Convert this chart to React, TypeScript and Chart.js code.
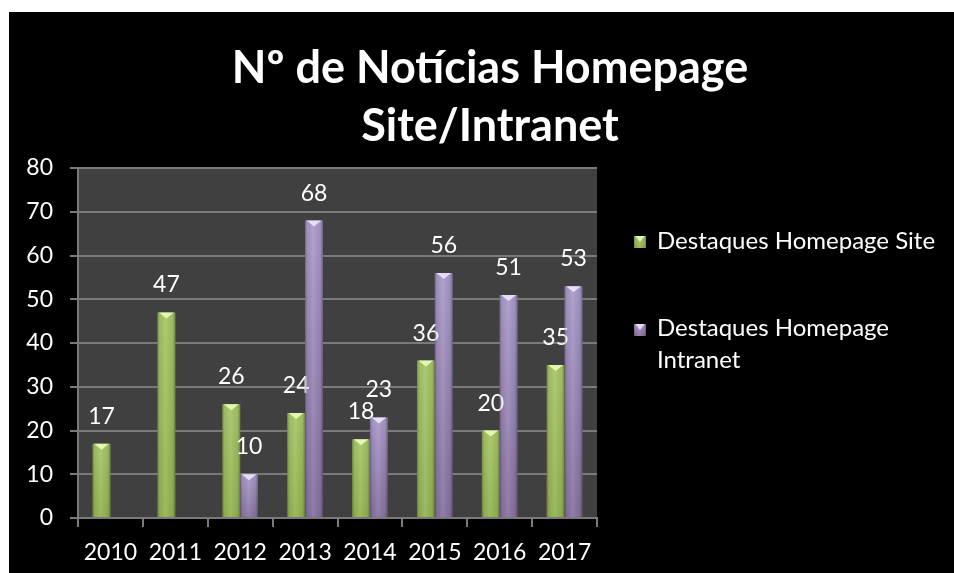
import React, { useEffect, useRef } from 'react';
import { Chart, registerables } from 'chart.js';

Chart.register(...registerables);

const years = ['2010', '2011', '2012', '2013', '2014', '2015', '2016', '2017'];
const siteValues = [17, 47, 26, 24, 18, 36, 20, 35];
const intranetValues = [null, null, 10, 68, 23, 56, 51, 53];
const yMin = 0;
const yMax = 80;
const yStep = 10;
const titleLines = ['Nº de Notícias Homepage', 'Site/Intranet'];
const seriesNames = ['Destaques Homepage Site', 'Destaques Homepage Intranet'];
const legendLines = [['Destaques Homepage Site'], ['Destaques Homepage', 'Intranet']];

const FONT = 'Lato, "Open Sans", "DejaVu Sans", sans-serif';
const baseTop = ['#a7c667', '#ab9aca'];
const baseBottom = ['#93b352', '#85729f'];
const lightTri = ['#e4f7b0', '#eadcf8'];

function barGradient(ctx: any, di: number) {
  const chart = ctx.chart;
  const ys = chart.scales && chart.scales.y;
  const v = ctx.raw;
  if (!ys || v == null || !chart.chartArea) return baseTop[di];
  const top = ys.getPixelForValue(v);
  const bot = ys.getPixelForValue(0);
  const g = chart.ctx.createLinearGradient(0, top, 0, bot + 0.01);
  g.addColorStop(0, baseTop[di]);
  g.addColorStop(1, baseBottom[di]);
  return g;
}

function shadeBar(c: CanvasRenderingContext2D, l: number, r: number, top: number, bottom: number, di: number) {
  const w = r - l;
  const g = c.createLinearGradient(l, 0, r, 0);
  g.addColorStop(0, 'rgba(0,0,0,0.30)');
  g.addColorStop(0.12, 'rgba(0,0,0,0.06)');
  g.addColorStop(0.45, 'rgba(255,255,255,0.08)');
  g.addColorStop(0.85, 'rgba(0,0,0,0.06)');
  g.addColorStop(1, 'rgba(0,0,0,0.32)');
  c.fillStyle = g;
  c.fillRect(l, top, w, bottom - top);
  c.fillStyle = lightTri[di];
  c.beginPath();
  c.moveTo(l + 1.5, top);
  c.lineTo(r - 1.5, top);
  c.lineTo((l + r) / 2, top + Math.min(6, (bottom - top) / 2));
  c.closePath();
  c.fill();
}

const decorPlugin = {
  id: 'decor',
  beforeDraw(chart: any) {
    const { ctx, chartArea } = chart;
    ctx.save();
    ctx.fillStyle = '#404040';
    ctx.fillRect(chartArea.left, chartArea.top, chartArea.right - chartArea.left, chartArea.bottom - chartArea.top);
    ctx.restore();
  },
  afterDatasetsDraw(chart: any) {
    const c = chart.ctx;
    c.save();
    chart.data.datasets.forEach((ds: any, di: number) => {
      const meta = chart.getDatasetMeta(di);
      meta.data.forEach((el: any, i: number) => {
        const v = ds.data[i];
        if (v == null) return;
        const p = el.getProps(['x', 'y', 'base', 'width'], true);
        const l = p.x - p.width / 2;
        const r = p.x + p.width / 2;
        shadeBar(c, l, r, p.y, p.base, di);
        c.fillStyle = '#ffffff';
        c.font = `23px ${FONT}`;
        c.textAlign = 'center';
        c.textBaseline = 'alphabetic';
        c.fillText(String(v), p.x, p.y - 20);
      });
    });
    c.restore();
  },
  afterDraw(chart: any) {
    const c = chart.ctx;
    c.save();
    // title
    c.fillStyle = '#ffffff';
    c.font = `bold 45px ${FONT}`;
    c.textAlign = 'center';
    c.textBaseline = 'alphabetic';
    c.fillText(titleLines[0], 481, 71);
    c.fillText(titleLines[1], 481, 129);
    // legend
    const items = [
      { sq: 224, lines: legendLines[0], base: [237] },
      { sq: 312, lines: legendLines[1], base: [324, 356] },
    ];
    items.forEach((it, di) => {
      const l = 625, r = 637, t = it.sq, b = it.sq + 12;
      const g = c.createLinearGradient(0, t, 0, b);
      g.addColorStop(0, baseTop[di]);
      g.addColorStop(1, baseBottom[di]);
      c.fillStyle = g;
      c.fillRect(l, t, r - l, b - t);
      shadeBar(c, l, r, t, b, di);
      c.fillStyle = '#ffffff';
      c.font = `24px ${FONT}`;
      c.textAlign = 'left';
      it.lines.forEach((ln, k) => c.fillText(ln, 648, it.base[k]));
    });
    c.restore();
  },
};

export default function App() {
  const ref = useRef<HTMLCanvasElement | null>(null);
  useEffect(() => {
    document.body.style.margin = '0';
    const canvas = ref.current;
    if (!canvas) return;
    const chart = new Chart(canvas, {
      type: 'bar',
      data: {
        labels: years,
        datasets: [
          {
            label: seriesNames[0],
            data: siteValues,
            backgroundColor: (ctx: any) => barGradient(ctx, 0),
            borderWidth: 0,
            categoryPercentage: 0.55,
            barPercentage: 1,
          },
          {
            label: seriesNames[1],
            data: intranetValues,
            backgroundColor: (ctx: any) => barGradient(ctx, 1),
            borderWidth: 0,
            categoryPercentage: 0.55,
            barPercentage: 1,
          },
        ],
      },
      options: {
        animation: false,
        responsive: false,
        maintainAspectRatio: false,
        devicePixelRatio: 1,
        layout: { padding: { top: 156, right: 357, left: 0, bottom: 0 } },
        plugins: {
          legend: { display: false },
          title: { display: false },
          tooltip: { enabled: false },
        },
        scales: {
          x: {
            afterFit: (s: any) => { s.height = 55; },
            grid: {
              display: true,
              drawOnChartArea: false,
              drawTicks: true,
              tickLength: 9,
              color: '#7a7a7a',
              lineWidth: 2,
              offset: true,
            },
            border: { display: true, color: '#7a7a7a', width: 2 },
            ticks: {
              color: '#ffffff',
              font: { family: FONT, size: 23 },
              padding: 12,
              maxRotation: 0,
            },
          },
          y: {
            min: yMin,
            max: yMax,
            afterFit: (s: any) => { s.width = 69; },
            grid: {
              color: '#7a7a7a',
              lineWidth: 2,
              drawTicks: true,
              tickLength: 8,
            },
            border: { display: true, color: '#7a7a7a', width: 2 },
            ticks: {
              stepSize: yStep,
              color: '#ffffff',
              font: { family: FONT, size: 23 },
              padding: 17,
            },
          },
        },
      },
      plugins: [decorPlugin],
    } as any);
    return () => chart.destroy();
  }, []);
  return (
    <div style={{ position: 'relative', width: 954, height: 573, background: '#ffffff', overflow: 'hidden' }}>
      <canvas
        ref={ref}
        width={945}
        height={561}
        style={{ position: 'absolute', left: 9, top: 12, width: 945, height: 561, background: '#000000' }}
      />
    </div>
  );
}
